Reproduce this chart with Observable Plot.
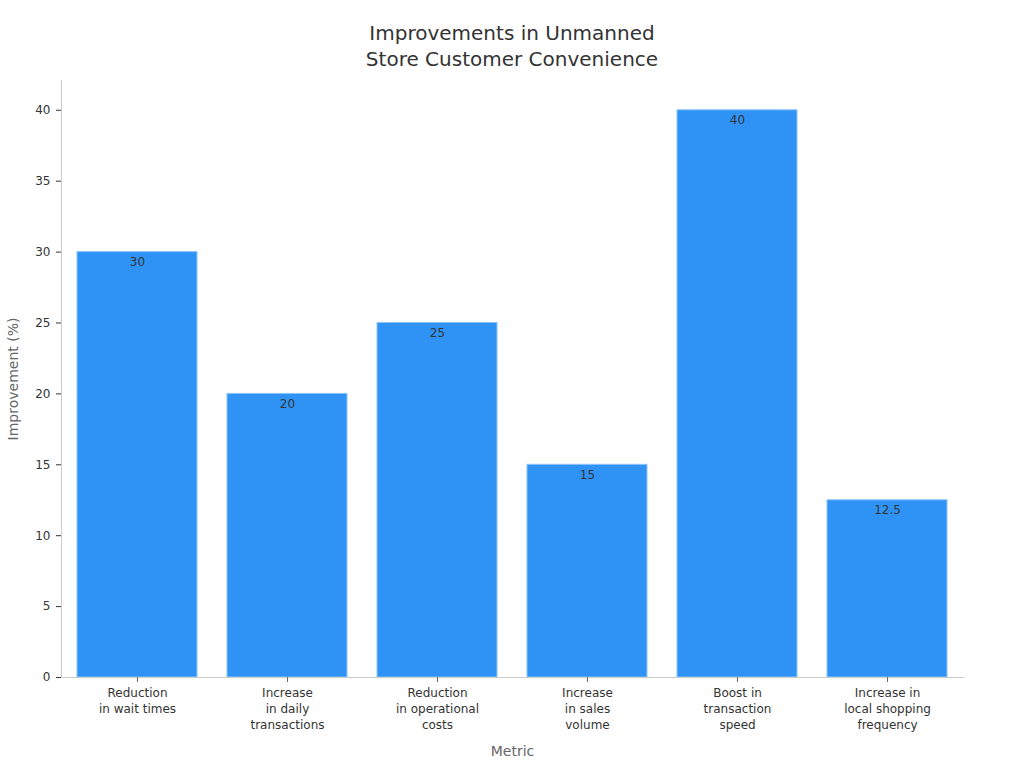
<!DOCTYPE html>
<html>
<head>
<meta charset="utf-8">
<script src="https://cdn.jsdelivr.net/npm/d3@7"></script>
<script src="https://cdn.jsdelivr.net/npm/@observablehq/plot@0.6"></script>
<style>
  html, body { margin: 0; padding: 0; background: #fff; }
  body { width: 1024px; height: 768px; overflow: hidden; font-family: "DejaVu Sans", sans-serif; }
  #title { height: 70px; box-sizing: border-box; padding-top: 20px; text-align: center; font-size: 20px; line-height: 26px; color: #333; }
</style>
</head>
<body>
<div id="title">Improvements in Unmanned<br>Store Customer Convenience</div>
<div id="chart"></div>
<script>
const categories = [
  "Reduction in wait times",
  "Increase in daily transactions",
  "Reduction in operational costs",
  "Increase in sales volume",
  "Boost in transaction speed",
  "Increase in local shopping frequency"
];
const tickLabels = [
  "Reduction\nin wait times",
  "Increase\nin daily\ntransactions",
  "Reduction\nin operational\ncosts",
  "Increase\nin sales\nvolume",
  "Boost in\ntransaction\nspeed",
  "Increase in\nlocal shopping\nfrequency"
];
const values = [30, 20, 25, 15, 40, 12.5];
const yTicks = [0, 5, 10, 15, 20, 25, 30, 35, 40];

const data = categories.map((c, i) => ({metric: c, value: values[i], label: tickLabels[i]}));
const labelOf = new Map(data.map(d => [d.metric, d.label]));

const chart = Plot.plot({
  width: 1024,
  height: 698,
  marginTop: 10,
  marginBottom: 91,
  marginLeft: 61,
  marginRight: 61,
  style: {fontFamily: "DejaVu Sans, sans-serif", fontSize: "12px", color: "#333", background: "#fff"},
  x: {domain: categories, paddingInner: 0.2, paddingOuter: 0.1, label: null},
  y: {domain: [0, 42.1], label: null},
  marks: [
    Plot.barY(data, {x: "metric", y: "value", fill: "#2f93f6", stroke: "#8ec5fa", strokeWidth: 1}),
    Plot.text(data, {x: "metric", y: "value", text: d => String(d.value), dy: 10, fill: "#333", fontSize: 12}),
    Plot.frame({anchor: "left", stroke: "#ccc"}),
    Plot.frame({anchor: "bottom", stroke: "#ccc"}),
    Plot.axisY({ticks: yTicks, tickSize: 5, tickPadding: 6, stroke: "#333", fill: "#333", fontSize: 12, label: null}),
    Plot.axisX({tickSize: 5, tickPadding: 3, stroke: "#666", fill: "#333", fontSize: 12, lineHeight: 1.35, tickFormat: d => labelOf.get(d), label: null}),
    Plot.text(["Metric"], {frameAnchor: "bottom", dy: 78, fill: "#666", fontSize: 14}),
    Plot.text(["Improvement (%)"], {frameAnchor: "left", textAnchor: "middle", dx: -48, rotate: -90, fill: "#666", fontSize: 14})
  ]
});
document.getElementById("chart").appendChild(chart);
</script>
</body>
</html>
